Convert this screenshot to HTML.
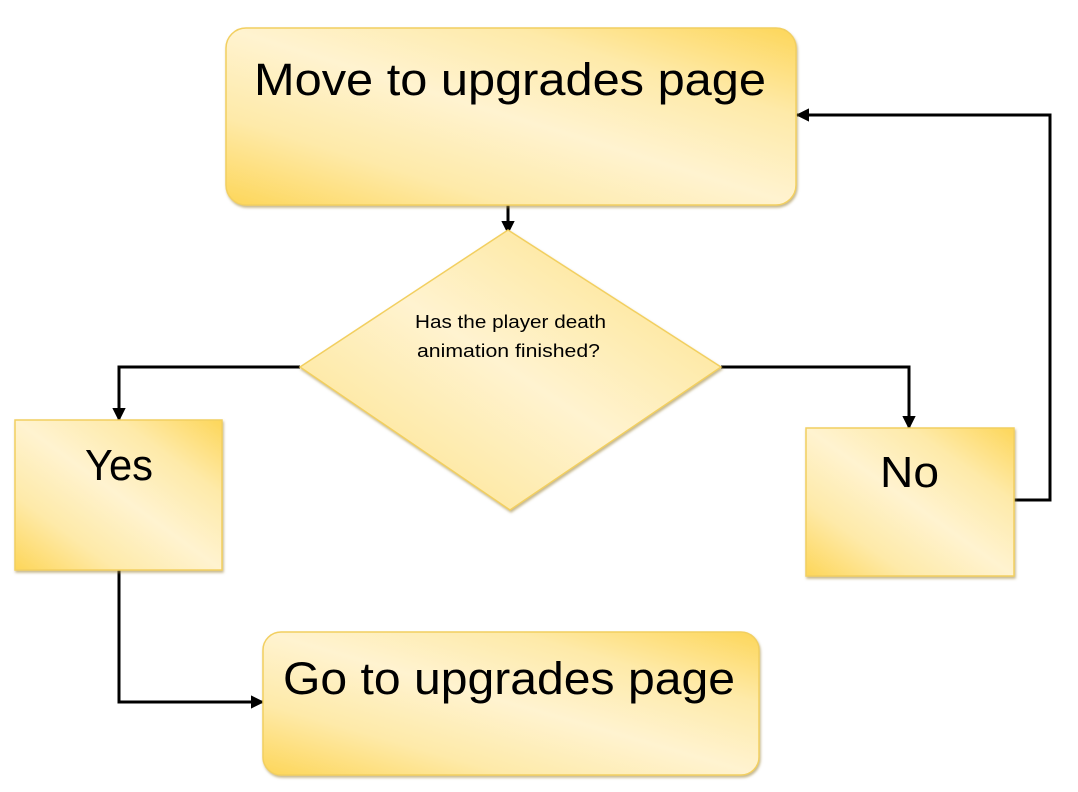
<!DOCTYPE html>
<html><head><meta charset="utf-8"><style>
html,body{margin:0;padding:0;background:#fff;width:1078px;height:792px;overflow:hidden}
svg{display:block}
text{font-family:"Liberation Sans",sans-serif;fill:#000}
</style></head><body>
<svg width="1078" height="792" viewBox="0 0 1078 792" xmlns="http://www.w3.org/2000/svg">
<defs>
<linearGradient id="g" x1="0" y1="1" x2="1" y2="0">
<stop offset="0" stop-color="#fdd659"/>
<stop offset="0.25" stop-color="#feeaa9"/>
<stop offset="0.5" stop-color="#fff3d0"/>
<stop offset="0.75" stop-color="#feeaa9"/>
<stop offset="1" stop-color="#fdd659"/>
</linearGradient>
<filter id="s" x="-5%" y="-5%" width="110%" height="115%"><feDropShadow dx="1" dy="2" stdDeviation="1.2" flood-color="#a08840" flood-opacity="0.6"/></filter>
<marker id="a" viewBox="0 0 10 10" refX="9" refY="5" markerWidth="4.5" markerHeight="4.5" orient="auto"><path d="M0,0 L10,5 L0,10 z" fill="#000"/></marker>
</defs>
<g stroke="#000" stroke-width="3" fill="none">
<path d="M508,205 L508,233" marker-end="url(#a)"/>
<path d="M300,367 L119,367 L119,420" marker-end="url(#a)"/>
<path d="M721,367 L909,367 L909,428" marker-end="url(#a)"/>
<path d="M1014,500 L1050,500 L1050,115 L797,115" marker-end="url(#a)"/>
<path d="M119,570 L119,702 L263,702" marker-end="url(#a)"/>
</g>
<g fill="url(#g)" stroke="#f2cf60" stroke-width="1.5" filter="url(#s)">
<rect x="226" y="28" width="570" height="177" rx="20"/>
<polygon points="508,230 721,367 510,510 300,367"/>
<rect x="15" y="420" width="207" height="150"/>
<rect x="806" y="428" width="208" height="148"/>
<rect x="263" y="632" width="496" height="143" rx="18"/>
</g>
<text x="254" y="95" font-size="45" textLength="512" lengthAdjust="spacingAndGlyphs">Move to upgrades page</text>
<text x="415" y="328" font-size="18" textLength="191" lengthAdjust="spacingAndGlyphs">Has the player death</text>
<text x="417" y="357" font-size="18" textLength="183" lengthAdjust="spacingAndGlyphs">animation finished?</text>
<text x="85" y="480" font-size="44" textLength="68" lengthAdjust="spacingAndGlyphs">Yes</text>
<text x="880" y="487" font-size="44" textLength="59" lengthAdjust="spacingAndGlyphs">No</text>
<text x="283" y="694" font-size="45" textLength="452" lengthAdjust="spacingAndGlyphs">Go to upgrades page</text>
</svg>
</body></html>
